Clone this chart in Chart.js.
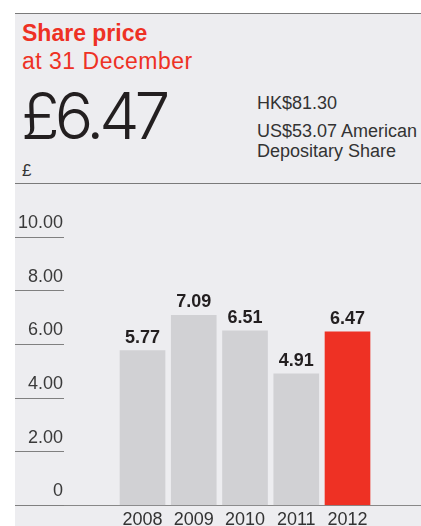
<!DOCTYPE html>
<html><head><meta charset="utf-8">
<script src="https://cdn.jsdelivr.net/npm/chart.js@4"></script>
<style>
html,body{margin:0;padding:0;background:#fff;width:421px;height:526px;overflow:hidden;font-family:"Liberation Sans",Arial,sans-serif;}
#panel{position:absolute;left:15px;top:13px;width:406px;height:513px;background:#ededf0;}
.rule{position:absolute;left:15px;width:406px;height:1px;background:#7a7a7a;}
.t{position:absolute;white-space:nowrap;line-height:1;margin:0;}
#wrap{position:absolute;left:15px;top:184px;width:406px;height:342px;}
</style></head>
<body>
<div id="panel"></div>
<div class="rule" style="top:13px"></div>
<div class="rule" style="top:183px"></div>
<div class="t" style="left:22px;top:21.5px;font-size:23px;font-weight:bold;color:#ee3124;">Share price</div>
<div class="t" style="left:22px;top:49.5px;font-size:23px;letter-spacing:0.5px;color:#ee3124;">at 31 December</div>
<div class="t" style="left:21px;top:84px;font-size:64px;font-family:Inter,'Liberation Sans',sans-serif;font-weight:300;letter-spacing:-5px;color:#231f20;">£6.47</div>
<div class="t" style="left:257px;top:94px;font-size:18px;color:#333;">HK$81.30</div>
<div class="t" style="left:257px;top:122px;font-size:18px;color:#333;">US$53.07 American</div>
<div class="t" style="left:257px;top:142px;font-size:18px;color:#333;">Depositary Share</div>
<div class="t" style="left:22px;top:162px;font-size:17px;color:#333;">£</div>
<div id="wrap"><canvas id="c" width="406" height="342"></canvas></div>
<script>
const years = [2008, 2009, 2010, 2011, 2012];
const prices = [5.77, 7.09, 6.51, 4.91, 6.47];
const barColors = ['#d1d1d4', '#d1d1d4', '#d1d1d4', '#d1d1d4', '#ee3124'];
const yTickValues = [0, 2, 4, 6, 8, 10];
const yTickLabels = ['0', '2.00', '4.00', '6.00', '8.00', '10.00'];

const FONT = '"Liberation Sans", Arial, sans-serif';

const valueLabels = {
  id: 'valueLabels',
  afterDatasetsDraw(chart) {
    const ctx = chart.ctx;
    const meta = chart.getDatasetMeta(0);
    ctx.save();
    ctx.font = 'bold 18px ' + FONT;
    ctx.fillStyle = '#231f20';
    ctx.textAlign = 'center';
    ctx.textBaseline = 'alphabetic';
    meta.data.forEach((bar, i) => {
      ctx.fillText(prices[i].toFixed(2), bar.x, bar.y - 8);
    });
    ctx.restore();
  }
};

new Chart(document.getElementById('c'), {
  type: 'bar',
  data: {
    datasets: [{
      data: years.map((y, i) => ({ x: y, y: prices[i] })),
      backgroundColor: barColors,
      borderWidth: 0,
      barThickness: 45
    }]
  },
  options: {
    responsive: false,
    devicePixelRatio: 1,
    animation: false,
    layout: { padding: { top: 53.3, left: 0, right: 0, bottom: 0 } },
    plugins: { legend: { display: false }, tooltip: { enabled: false } },
    scales: {
      x: {
        type: 'linear',
        offset: false,
        bounds: 'data',
        min: 2006.468,
        max: 2013.434,
        afterBuildTicks: s => { s.ticks = years.map(v => ({ value: v })); },
        afterFit: s => { s.height = 20.7; },
        grid: { display: false, drawTicks: false, offset: false },
        border: { display: true, color: '#888', width: 1 },
        ticks: {
          padding: 4,
          color: '#333',
          font: { family: FONT, size: 18 },
          callback: v => String(v),
          maxRotation: 0,
          autoSkip: false
        }
      },
      y: {
        min: 0,
        max: 10,
        afterBuildTicks: s => { s.ticks = yTickValues.map(v => ({ value: v })); },
        afterFit: s => { s.width = 49; },
        grid: { drawOnChartArea: false, drawTicks: true, tickLength: 49, color: '#808080', lineWidth: 1 },
        border: { display: false },
        ticks: {
          padding: -48,
          labelOffset: -14,
          color: '#3a3a3a',
          font: { family: FONT, size: 18 },
          callback: (v, i) => yTickLabels[i]
        }
      }
    }
  },
  plugins: [valueLabels]
});
</script>
</body></html>
